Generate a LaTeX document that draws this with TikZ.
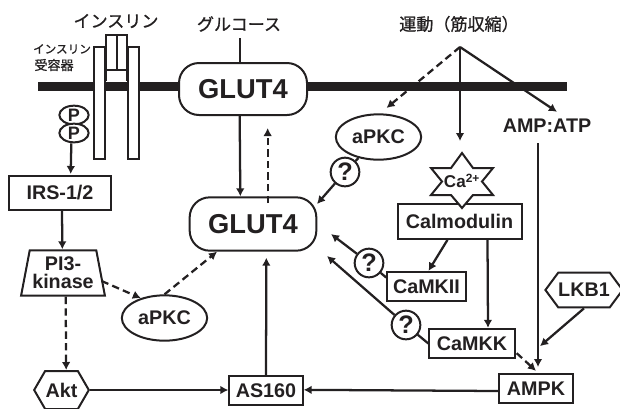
\documentclass[tikz,border=0pt]{standalone}
\usepackage{fontspec}
\setmainfont{Liberation Sans}
\newfontfamily\cjk[FakeBold=0.9]{Noto Sans CJK JP}
\usepackage{tikz}
\usetikzlibrary{arrows.meta,shapes.geometric,shapes.symbols}
\usepackage{xcolor}
\definecolor{inkdark}{RGB}{35,32,33}
\tikzset{
  labelbf/.style={font=\fontsize{14.8}{13.5}\selectfont\bfseries,text=inkdark},
  labeljp/.style={font=\fontsize{12.8}{14}\selectfont\cjk,text=inkdark},
  boxnode/.style={labelbf,draw=inkdark,line width=1.5pt,fill=white,inner sep=0pt},
  ovalnode/.style={boxnode,ellipse},
  hexnode/.style={boxnode,signal,signal to=east and west},
  quest/.style={boxnode,circle,minimum size=21.5pt,font=\fontsize{19}{19}\selectfont\bfseries},
  solidline/.style={draw=inkdark,line width=1.7pt},
  dashline/.style={solidline,dash pattern=on 5.5pt off 3.2pt}
}
\begin{document}
\begin{tikzpicture}[x=0.75pt,y=-0.75pt,>={Latex[length=6pt,width=6.5pt]}]
        \useasboundingbox (0,0) rectangle (620,408);
        % membrane and receptor
        \fill[inkdark] (38,81.5) rectangle (567,91);
        \draw[solidline,fill=white] (94,47) rectangle (105,159);
        \draw[solidline,fill=white] (128,47) rectangle (139,159);
        \fill[white] (106,35) rectangle (127,81);
        \draw[solidline] (106,81) -- (106,35) -- (127,35) -- (127,81);
        \draw[solidline] (106,70) -- (127,70);
        \draw[solidline] (117,35) -- (117,70);
        % labels on top
        \node[labeljp] (insulin) at (116,21) {インスリン};
        \node[labeljp,font=\fontsize{8.7}{10}\selectfont\cjk] (recepA) at (62,49) {インスリン};
        \node[labeljp,font=\fontsize{9.8}{10}\selectfont\cjk] (recepB) at (54,65) {受容器};
        \node[labeljp] (glucose) at (239,24) {グルコース};
        \node[labeljp] (exercise) at (459,24) {運動（筋収縮）};
        \coordinate (glucoseEnd) at (240,38);
        \coordinate (exApex) at (460,47);
        % nodes
        \node[boxnode,rounded corners=15pt,minimum width=96pt,minimum height=39pt,
          font=\fontsize{20.5}{20}\selectfont\bfseries] (glutTop) at (243,89) {GLUT4};
        \node[boxnode,rounded corners=15pt,minimum width=95pt,minimum height=40pt,
          font=\fontsize{20.5}{20}\selectfont\bfseries] (glutMain) at (253,224) {GLUT4};
        \node[ovalnode,minimum width=22pt,minimum height=14pt,font=\fontsize{13.5}{13}\selectfont\bfseries] (pA) at (74,115) {P};
        \node[ovalnode,minimum width=22pt,minimum height=14pt,font=\fontsize{13.5}{13}\selectfont\bfseries] (pB) at (74,133) {P};
        \node[boxnode,minimum width=76pt,minimum height=25pt] (irs) at (60,193) {IRS-1/2};
        \node[boxnode,trapezium,trapezium left angle=76,trapezium right angle=76,trapezium stretches=true,
          minimum width=63pt,minimum height=34pt,align=center] (pik) at (63,273) {PI3-\\kinase};
        \node[hexnode,minimum width=41pt,minimum height=28.5pt,signal pointer angle=120] (akt) at (61.5,390) {Akt};
        \node[boxnode,minimum width=55pt,minimum height=22pt] (as) at (266,390.5) {AS160};
        \node[ovalnode,minimum width=64pt,minimum height=34pt] (apkcLow) at (164.5,318) {aPKC};
        \node[ovalnode,minimum width=64pt,minimum height=34pt] (apkcUp) at (378.5,137) {aPKC};
        \node[labelbf] (amp) at (547,126) {AMP:ATP};
        \node[boxnode,minimum width=93pt,minimum height=26pt] (calm) at (459.5,221.5) {Calmodulin};
        \draw[solidline,line width=1.5pt,fill=white] (462,153) -- (473,168) -- (493,168) -- (482,181.5) -- (493,195)
          -- (473,195) -- (462,208) -- (451,195) -- (431,195) -- (442,181.5) -- (431,168) -- (451,168) -- cycle;
        \node[labelbf,font=\fontsize{12.8}{12}\selectfont\bfseries] (ca) at (462,181) {Ca\textsuperscript{2+}};
        \node[boxnode,minimum width=59pt,minimum height=22pt] (kii) at (426.5,286.5) {CaMKII};
        \node[boxnode,minimum width=64pt,minimum height=22pt] (kk) at (472,343.5) {CaMKK};
        \node[boxnode,minimum width=55pt,minimum height=22pt] (ampk) at (536,388.5) {AMPK};
        \node[hexnode,minimum width=52pt,minimum height=26pt,signal pointer angle=107] (lkb) at (584,290) {LKB1};
        \node[quest] (qUp) at (345,172) {?};
        \node[quest] (qKii) at (369,263) {?};
        \node[quest] (qKk) at (406,325) {?};
        \coordinate (qUpEnd) at (317,204);
        \coordinate (qKiiEnd) at (331,234);
        \coordinate (qKkEnd) at (327,256);
        \coordinate (ampLine) at (538,143);
        \coordinate (ampTip) at (538,367);
        \coordinate (caTip) at (460,141);
        % connectors
        \draw[solidline] (glucoseEnd) -- (glucoseEnd |- glutTop.north);
        \draw[solidline,->] ([xshift=-2.5pt]glutTop.south) -- ([xshift=-9.5pt]glutMain.north);
        \draw[dashline,->] ([xshift=11pt,yshift=-5pt]glutMain.north) -- ([xshift=18.5pt,yshift=-9pt]glutTop.south);
        \draw[solidline,->] ([xshift=-2pt]pB.south) -- ([xshift=8pt,yshift=1pt]irs.north);
        \draw[solidline,->] ([xshift=1.5pt]irs.south) -- ([xshift=-0.5pt]pik.north);
        \draw[dashline,->] ([xshift=2pt]pik.south) -- ([xshift=3.5pt]akt.north);
        \draw[dashline,->] (pik.east) ++(0,8) -- (apkcLow.140);
        \draw[dashline,->] (apkcLow.north) -- ([xshift=-27pt]glutMain.south);
        \draw[solidline,->] (akt.east) -- (akt.east -| as.west);
        \draw[solidline,->] (as.north) -- ([xshift=10pt,yshift=-4.5pt]glutMain.south);
        \draw[solidline,->] (ampk.west) ++(0,2.5) -- ([yshift=0.5pt]as.east);
        \draw[dashline,->] (exApex) -- ([xshift=6pt,yshift=4pt]apkcUp.north);
        \draw[solidline,->] (exApex) -- (caTip);
        \draw[solidline,->] (exApex) -- ([xshift=7.5pt,yshift=2pt]amp.north);
        \draw[solidline] (apkcUp) -- (qUp);
        \draw[solidline,->] (qUp) -- (qUpEnd);
        \draw[solidline,->] ([xshift=-9pt]calm.south) -- ([xshift=1.5pt]kii.north);
        \draw[solidline,->] ([xshift=21pt]calm.south) -- ([xshift=12pt]kk.north);
        \draw[solidline] (kii.west) ++(0,-9) -- (qKii);
        \draw[solidline,->] (qKii) -- (qKiiEnd);
        \draw[solidline] (kk.west) -- (qKk);
        \draw[solidline,->] (qKk) -- (qKkEnd);
        \draw[solidline,->] (ampLine) -- (ampTip);
        \draw[solidline,->] (lkb.south) -- ([xshift=3pt,yshift=20pt]ampk.north);
        \draw[dashline,->] (kk.south east) ++(1,-6) -- ([xshift=0pt,yshift=1.5pt]ampk.north);
      \end{tikzpicture}
\end{document}
